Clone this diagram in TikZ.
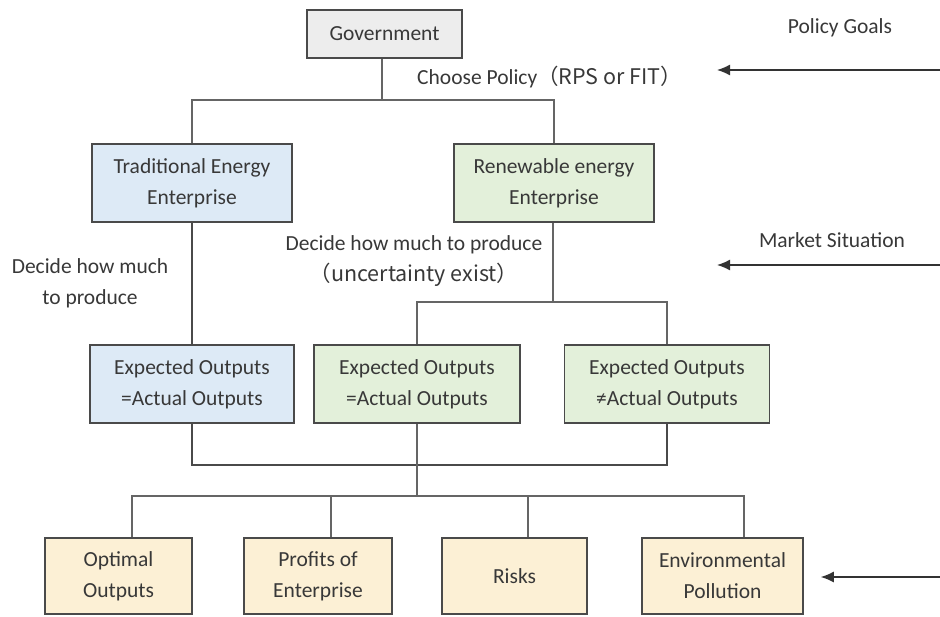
\documentclass[tikz,border=0pt]{standalone}
\usepackage{fontspec}
\setmainfont{Carlito}
\newfontfamily\cjk{Noto Sans CJK SC}
\usetikzlibrary{arrows.meta,calc}
\definecolor{txt}{HTML}{383838}
\definecolor{edge}{HTML}{4A4A4A}
\definecolor{gfill}{HTML}{EDEDED}
\definecolor{bfill}{HTML}{DDEAF6}
\definecolor{grfill}{HTML}{E3F0DA}
\definecolor{yfill}{HTML}{FCF0D5}
\begin{document}
\begin{tikzpicture}[x=1pt,y=-1pt,
  every node/.style={font=\fontsize{21.5}{31}\selectfont, text=txt, align=center},
  box/.style={draw=edge, line width=1.5pt, inner sep=0pt},
  conn/.style={draw=edge!85, line width=1.3pt},
  thick conn/.style={draw=edge, line width=1.9pt},
  arr/.style={draw=black!80, line width=1.4pt, -{Latex[length=13pt,width=11pt]}},
  lbl/.style={inner sep=0pt}
]
\useasboundingbox[fill=white] (0,0) rectangle (940,616);

% boxes
\node[box, fill=gfill, minimum width=155pt, minimum height=48pt] (gov) at (384.5,34) {Government};
\node[box, fill=bfill, minimum width=200pt, minimum height=78pt] (trad) at (192,183) {Traditional Energy\\Enterprise};
\node[box, fill=grfill, minimum width=200pt, minimum height=78pt] (ren) at (554,183) {Renewable energy\\Enterprise};

\node[box, fill=bfill, minimum width=204pt, minimum height=78pt] (e1) at (192,384) {Expected Outputs\\=Actual Outputs};
\node[box, fill=grfill, minimum width=206pt, minimum height=78pt] (e2) at (417,384) {Expected Outputs\\=Actual Outputs};
\node[box, fill=grfill, minimum width=205pt, minimum height=78pt] (e3) at (667,384) {Expected Outputs\\≠Actual Outputs};

\node[box, fill=yfill, minimum width=147pt, minimum height=76pt] (opt) at (118.5,576) {Optimal\\Outputs};
\node[box, fill=yfill, minimum width=148pt, minimum height=76pt] (prof) at (318,576) {Profits of\\Enterprise};
\node[box, fill=yfill, minimum width=145pt, minimum height=76pt] (risk) at (514.5,576) {Risks};
\node[box, fill=yfill, minimum width=161pt, minimum height=76pt] (env) at (722.5,576) {Environmental\\Pollution};

% labels
\node[lbl, anchor=west] (choose) at (417,77) {Choose Policy\cjk{（}RPS or FIT\cjk{）}};
\node[lbl] (dec1) at (90,283) {Decide how much\\to produce};
\node[lbl] (dec2) at (414,261) {Decide how much to produce\\\cjk{（}uncertainty exist\cjk{）}};
\node[lbl] (goals) at (840,28) {Policy Goals};
\node[lbl] (market) at (832,240) {Market Situation};

% connectors
\coordinate (j1) at (382,100);
\draw[conn] (gov.south -| j1) -- (j1);
\draw[conn] (trad.north) |- (j1) -| (ren.north);

\draw[thick conn] (trad.south) -- (e1.north);

\coordinate (j2) at (553,302);
\draw[conn] (ren.south -| j2) -- (j2);
\draw[conn] (e2.north) |- (j2) -| (e3.north);

\coordinate (j3) at (417,465);
\draw[thick conn] (e1.south) |- (j3) -| (e3.south);
\coordinate (j4) at (417,496);
\draw[conn] (e2.south) -- (j4);

\coordinate (d1) at ($(opt.north)+(13.5,0)$);
\coordinate (d2) at ($(prof.north)+(13,0)$);
\coordinate (d3) at ($(risk.north)+(13.5,0)$);
\coordinate (d4) at ($(env.north)+(21.5,0)$);
\draw[conn] (d1) |- (j4) -| (d4);
\draw[conn] (d2) -- (d2 |- j4);
\draw[conn] (d3) -- (d3 |- j4);

% side arrows
\coordinate (a1s) at (940,70);
\coordinate (a1e) at (717,70);
\coordinate (a2s) at (940,265);
\coordinate (a2e) at (717,265);
\coordinate (a3s) at (940,577);
\draw[arr] (a1s) -- (a1e);
\draw[arr] (a2s) -- (a2e);
\draw[arr, shorten >=17pt] (a3s) -- (env.east |- a3s);
\end{tikzpicture}
\end{document}
